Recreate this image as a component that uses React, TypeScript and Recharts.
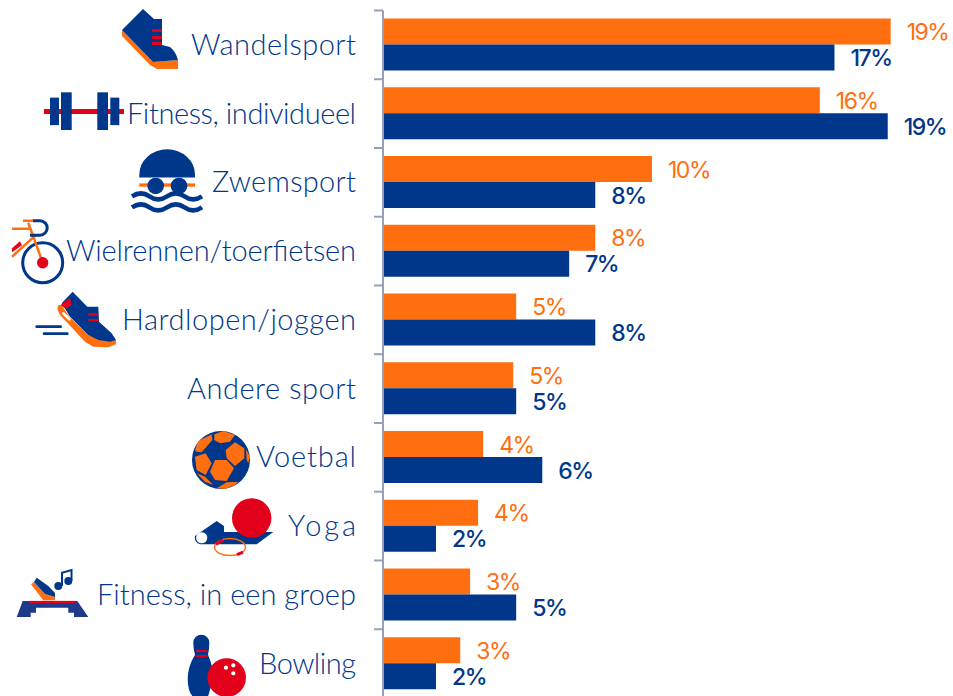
import React from 'react';
import { BarChart, Bar, XAxis, YAxis, LabelList } from 'recharts';

const categories = [
  'Wandelsport',
  'Fitness, individueel',
  'Zwemsport',
  'Wielrennen/toerfietsen',
  'Hardlopen/joggen',
  'Andere sport',
  'Voetbal',
  'Yoga',
  'Fitness, in een groep',
  'Bowling',
];
const orangeValues = [19.06, 16.4, 10.1, 7.97, 5.0, 4.89, 3.76, 3.57, 3.27, 2.9];
const navyValues = [16.95, 18.95, 7.97, 6.99, 7.97, 5.0, 5.98, 1.99, 5.0, 1.99];

const NAVY = '#00378b';
const ORANGE = '#ff6f0f';
const RED = '#e2001a';
const AXIS = '#9a9fb8';

// the original font is wider than Lato, so each label is stretched to its measured width
const labelWidths: Record<string, number> = {
  Wandelsport: 165,
  'Fitness, individueel': 229,
  Zwemsport: 144,
  'Wielrennen/toerfietsen': 290,
  'Hardlopen/joggen': 234,
  'Andere sport': 169,
  Voetbal: 100,
  Yoga: 68,
  'Fitness, in een groep': 259,
  Bowling: 97,
};

const chartData = categories.map((name, i) => ({
  name,
  orange: orangeValues[i],
  navy: navyValues[i],
}));

// icons use tick-relative coordinates: (0,0) is the middle of the band at the axis
const icons: Record<string, React.ReactNode> = {
  Wandelsport: (
    <g>
      <path d="M-261,-15 L-261,-9 L-233,20 L-226,24 L-205,24 L-205,15 L-230,17 Z" fill={ORANGE} />
      <path d="M-261,-15 L-240,-36 L-229,-26 L-221,-26 L-221,0 L-213,2 Q-207,7 -205,15 L-230,17 Z" fill={NAVY} />
      <path d="M-231,-16 h10 v3 h-10 z M-231,-9 h10 v3 h-10 z M-231,-3 h10 v3 h-10 z" fill={RED} />
    </g>
  ),
  'Fitness, individueel': (
    <g>
      <rect x={-339} y={-4.6} width={80} height={5} fill={RED} />
      <rect x={-333} y={-16} width={9} height={27.5} fill={NAVY} />
      <rect x={-322} y={-21.3} width={10.7} height={37.7} fill={NAVY} />
      <rect x={-285.7} y={-21.3} width={10.7} height={37.7} fill={NAVY} />
      <rect x={-272.7} y={-16} width={9} height={27.5} fill={NAVY} />
    </g>
  ),
  Zwemsport: (
    <g>
      <path d="M-243.7,-5 L-243.7,-8 A27.8,25 0 0 1 -188,-8 L-188,-5 Z" fill={NAVY} />
      <rect x={-243.7} y={1} width={55.7} height={3.3} fill={ORANGE} />
      <circle cx={-227.3} cy={3.6} r={8.3} fill={NAVY} />
      <circle cx={-204} cy={3.6} r={8.3} fill={NAVY} />
      <path
        d="M-251,14 q9,-6 17.5,0 t17.5,0 t17.5,0 t17.5,0 M-251,25 q9,-6 17.5,0 t17.5,0 t17.5,0 t17.5,0"
        fill="none"
        stroke={NAVY}
        strokeWidth={4.5}
      />
    </g>
  ),
  'Wielrennen/toerfietsen': (
    <g>
      <circle cx={-340.3} cy={11.6} r={20} fill="none" stroke={NAVY} strokeWidth={3} />
      <path
        d="M-340.3,11.6 L-354.7,-28.4 M-371,-22.4 L-352.7,-22.4 M-360,-30.4 L-349.7,-30.4 M-371,5.6 L-349.7,-13.8 L-347,-16"
        fill="none"
        stroke={ORANGE}
        strokeWidth={2.5}
      />
      <circle cx={-340.3} cy={11.6} r={5.7} fill={RED} />
      <path d="M-350,-30.4 h7 a7.2,7.2 0 0 1 0,14.4 h-10" fill="none" stroke={NAVY} strokeWidth={3} />
      <path d="M-371,-3 L-363,-10 L-361,-6 L-371,1 Z" fill={RED} />
    </g>
  ),
  'Hardlopen/joggen': (
    <g transform="translate(-353,-34.9) scale(0.3333)">
      <path
        d="M85,60 L82,72 L90,90 L165,170 L190,185 L235,187 L258,178 L258,165 L215,165 L175,150 L118,95 L95,60 Z"
        fill={ORANGE}
      />
      <path
        d="M95,55 L128,20 L172,65 L205,65 L207,110 L245,145 L258,165 L240,170 L205,165 L175,150 L120,95 Z"
        fill={NAVY}
      />
      <path d="M92,60 L120,38 L125,60 L113,70 L105,70 Z" fill={RED} />
      <path d="M100,85 L118,103" stroke="#fff" strokeWidth={8} strokeLinecap="round" />
      <path d="M175,85 h30 v7 h-30 z M175,102 h32 v7 h-32 z" fill={RED} />
      <path d="M20,125 H92 M42,146 H112" stroke={NAVY} strokeWidth={8} strokeLinecap="round" />
    </g>
  ),
  Voetbal: (
    <g transform="translate(-198,-32.4) scale(0.3333)">
      <circle cx={108} cy={105} r={87} fill={NAVY} />
      <g fill={ORANGE}>
        <path d="M30,75 L40,48 L80,28 L82,45 L50,82 L35,80 Z" />
        <path d="M88,28 L115,18 L150,30 L135,50 L105,55 L88,45 Z" />
        <path d="M122,75 L150,52 L178,70 L178,100 L150,123 L125,100 Z" />
        <path d="M183,72 L195,95 L190,115 L185,105 Z" />
        <path d="M30,95 L62,85 L80,115 L62,150 L35,135 Z" />
        <path d="M75,140 L90,105 L125,105 L147,130 L125,168 L90,165 Z" />
        <path d="M95,190 L125,172 L160,170 L150,180 L120,192 Z" />
        <path d="M35,145 L60,155 L85,180 L60,170 Z" />
      </g>
    </g>
  ),
  Yoga: (
    <g>
      <path
        d="M-188,9.9 L-166.3,-5.1 L-159,-0.1 L-159,5.9 L-109.7,5.9 L-126.3,18.2 L-183,18.2 Q-189,16 -188,9.9 Z"
        fill={NAVY}
      />
      <circle cx={-131.3} cy={-8.1} r={19.7} fill={RED} />
      <circle cx={-181.3} cy={11.6} r={5.6} fill="#fff" />
      <ellipse cx={-153} cy={20.9} rx={15.5} ry={8.5} fill="none" stroke={ORANGE} strokeWidth={1.4} />
      <path d="M-167,18 L-160,14 M-146,28.5 L-140,26" stroke={RED} strokeWidth={3} fill="none" />
    </g>
  ),
  'Fitness, in een groep': (
    <g>
      <path
        d="M-360.3,6.1 L-305.7,6.1 L-294.7,22.1 L-309,22.1 L-309,17.8 L-314.7,17.8 L-314.7,12.8 L-347,12.8 L-347,17.8 L-352.3,17.8 L-352.3,22.1 L-366.3,22.1 Z"
        fill="#1f3a8a"
      />
      <rect x={-353.7} y={6} width={46.7} height={2.5} fill={RED} />
      <path d="M-352,-10.6 L-339.7,5.4 L-328,5.4 L-328,2 L-338,-1 L-349,-13 Z" fill={ORANGE} />
      <path d="M-349,-13 L-346.3,-17.2 L-334.7,-8.9 L-328,-2 L-328,2 L-338,-1 Z" fill={NAVY} />
      <path d="M-321,-9 L-321,-22.2 L-311.5,-24.9 L-311.5,-14" fill="none" stroke={NAVY} strokeWidth={2} />
      <circle cx={-324.7} cy={-8.9} r={4} fill={NAVY} />
      <circle cx={-314.7} cy={-13.9} r={4} fill={NAVY} />
    </g>
  ),
  Bowling: (
    <g>
      <path
        d="M-189.7,-20.9 A8,8 0 0 1 -173.7,-20.9 Q-173.7,-14 -175,-9 Q-169.7,3 -169.7,15 L-175,33 L-190,33 Q-195.3,28 -195.3,15 Q-195.3,3 -188,-9 Q-189.7,-14 -189.7,-20.9 Z"
        fill={NAVY}
      />
      <rect x={-187} y={-13.6} width={11.3} height={2} fill={RED} />
      <rect x={-187} y={-8.6} width={11.3} height={2} fill={RED} />
      <circle cx={-156.3} cy={14} r={19.3} fill={RED} />
      <circle cx={-157} cy={4} r={2.1} fill="#fff" />
      <circle cx={-149.7} cy={1.7} r={2.1} fill="#fff" />
      <circle cx={-149.7} cy={9.7} r={2.1} fill="#fff" />
    </g>
  ),
};

const CategoryTick = ({ y, payload }: any) => (
  <g transform={`translate(383,${y})`}>
    <line x1={-9} y1={-34.4} x2={0} y2={-34.4} stroke={AXIS} strokeWidth={2} />
    {icons[payload.value]}
    <text
      x={-27}
      y={10}
      textAnchor="end"
      textLength={labelWidths[payload.value]}
      lengthAdjust="spacing"
      fontFamily="Lato, sans-serif"
      fontWeight={300}
      fontSize={29}
      fill={NAVY}
    >
      {payload.value}
    </text>
  </g>
);

const renderBarLabel = (color: string, weight: number) => (props: any) => {
  const { x, y, width, height, value } = props;
  return (
    <text
      x={x + width + 16}
      y={y + height / 2 + 8.5}
      fontFamily="Inter, sans-serif"
      fontSize={23}
      fontWeight={weight}
      letterSpacing={-1.5}
      fill={color}
    >
      {Math.round(value)}%
    </text>
  );
};

export default function App() {
  return (
    <div style={{ position: 'absolute', left: 0, top: 0, width: 953, height: 696, overflow: 'hidden', background: '#fff' }}>
      <BarChart
        width={953}
        height={700}
        data={chartData}
        layout="vertical"
        margin={{ top: 10.5, right: 0, bottom: 2, left: 0 }}
        barCategoryGap={8}
        barGap={0}
      >
        <XAxis type="number" domain={[0, 21.4]} hide />
        <YAxis
          type="category"
          dataKey="name"
          width={383}
          interval={0}
          tick={<CategoryTick />}
          tickLine={false}
          axisLine={{ stroke: AXIS, strokeWidth: 2 }}
        />
        <Bar dataKey="orange" fill={ORANGE} isAnimationActive={false}>
          <LabelList dataKey="orange" content={renderBarLabel(ORANGE, 400)} />
        </Bar>
        <Bar dataKey="navy" fill={NAVY} isAnimationActive={false}>
          <LabelList dataKey="navy" content={renderBarLabel(NAVY, 500)} />
        </Bar>
      </BarChart>
    </div>
  );
}
